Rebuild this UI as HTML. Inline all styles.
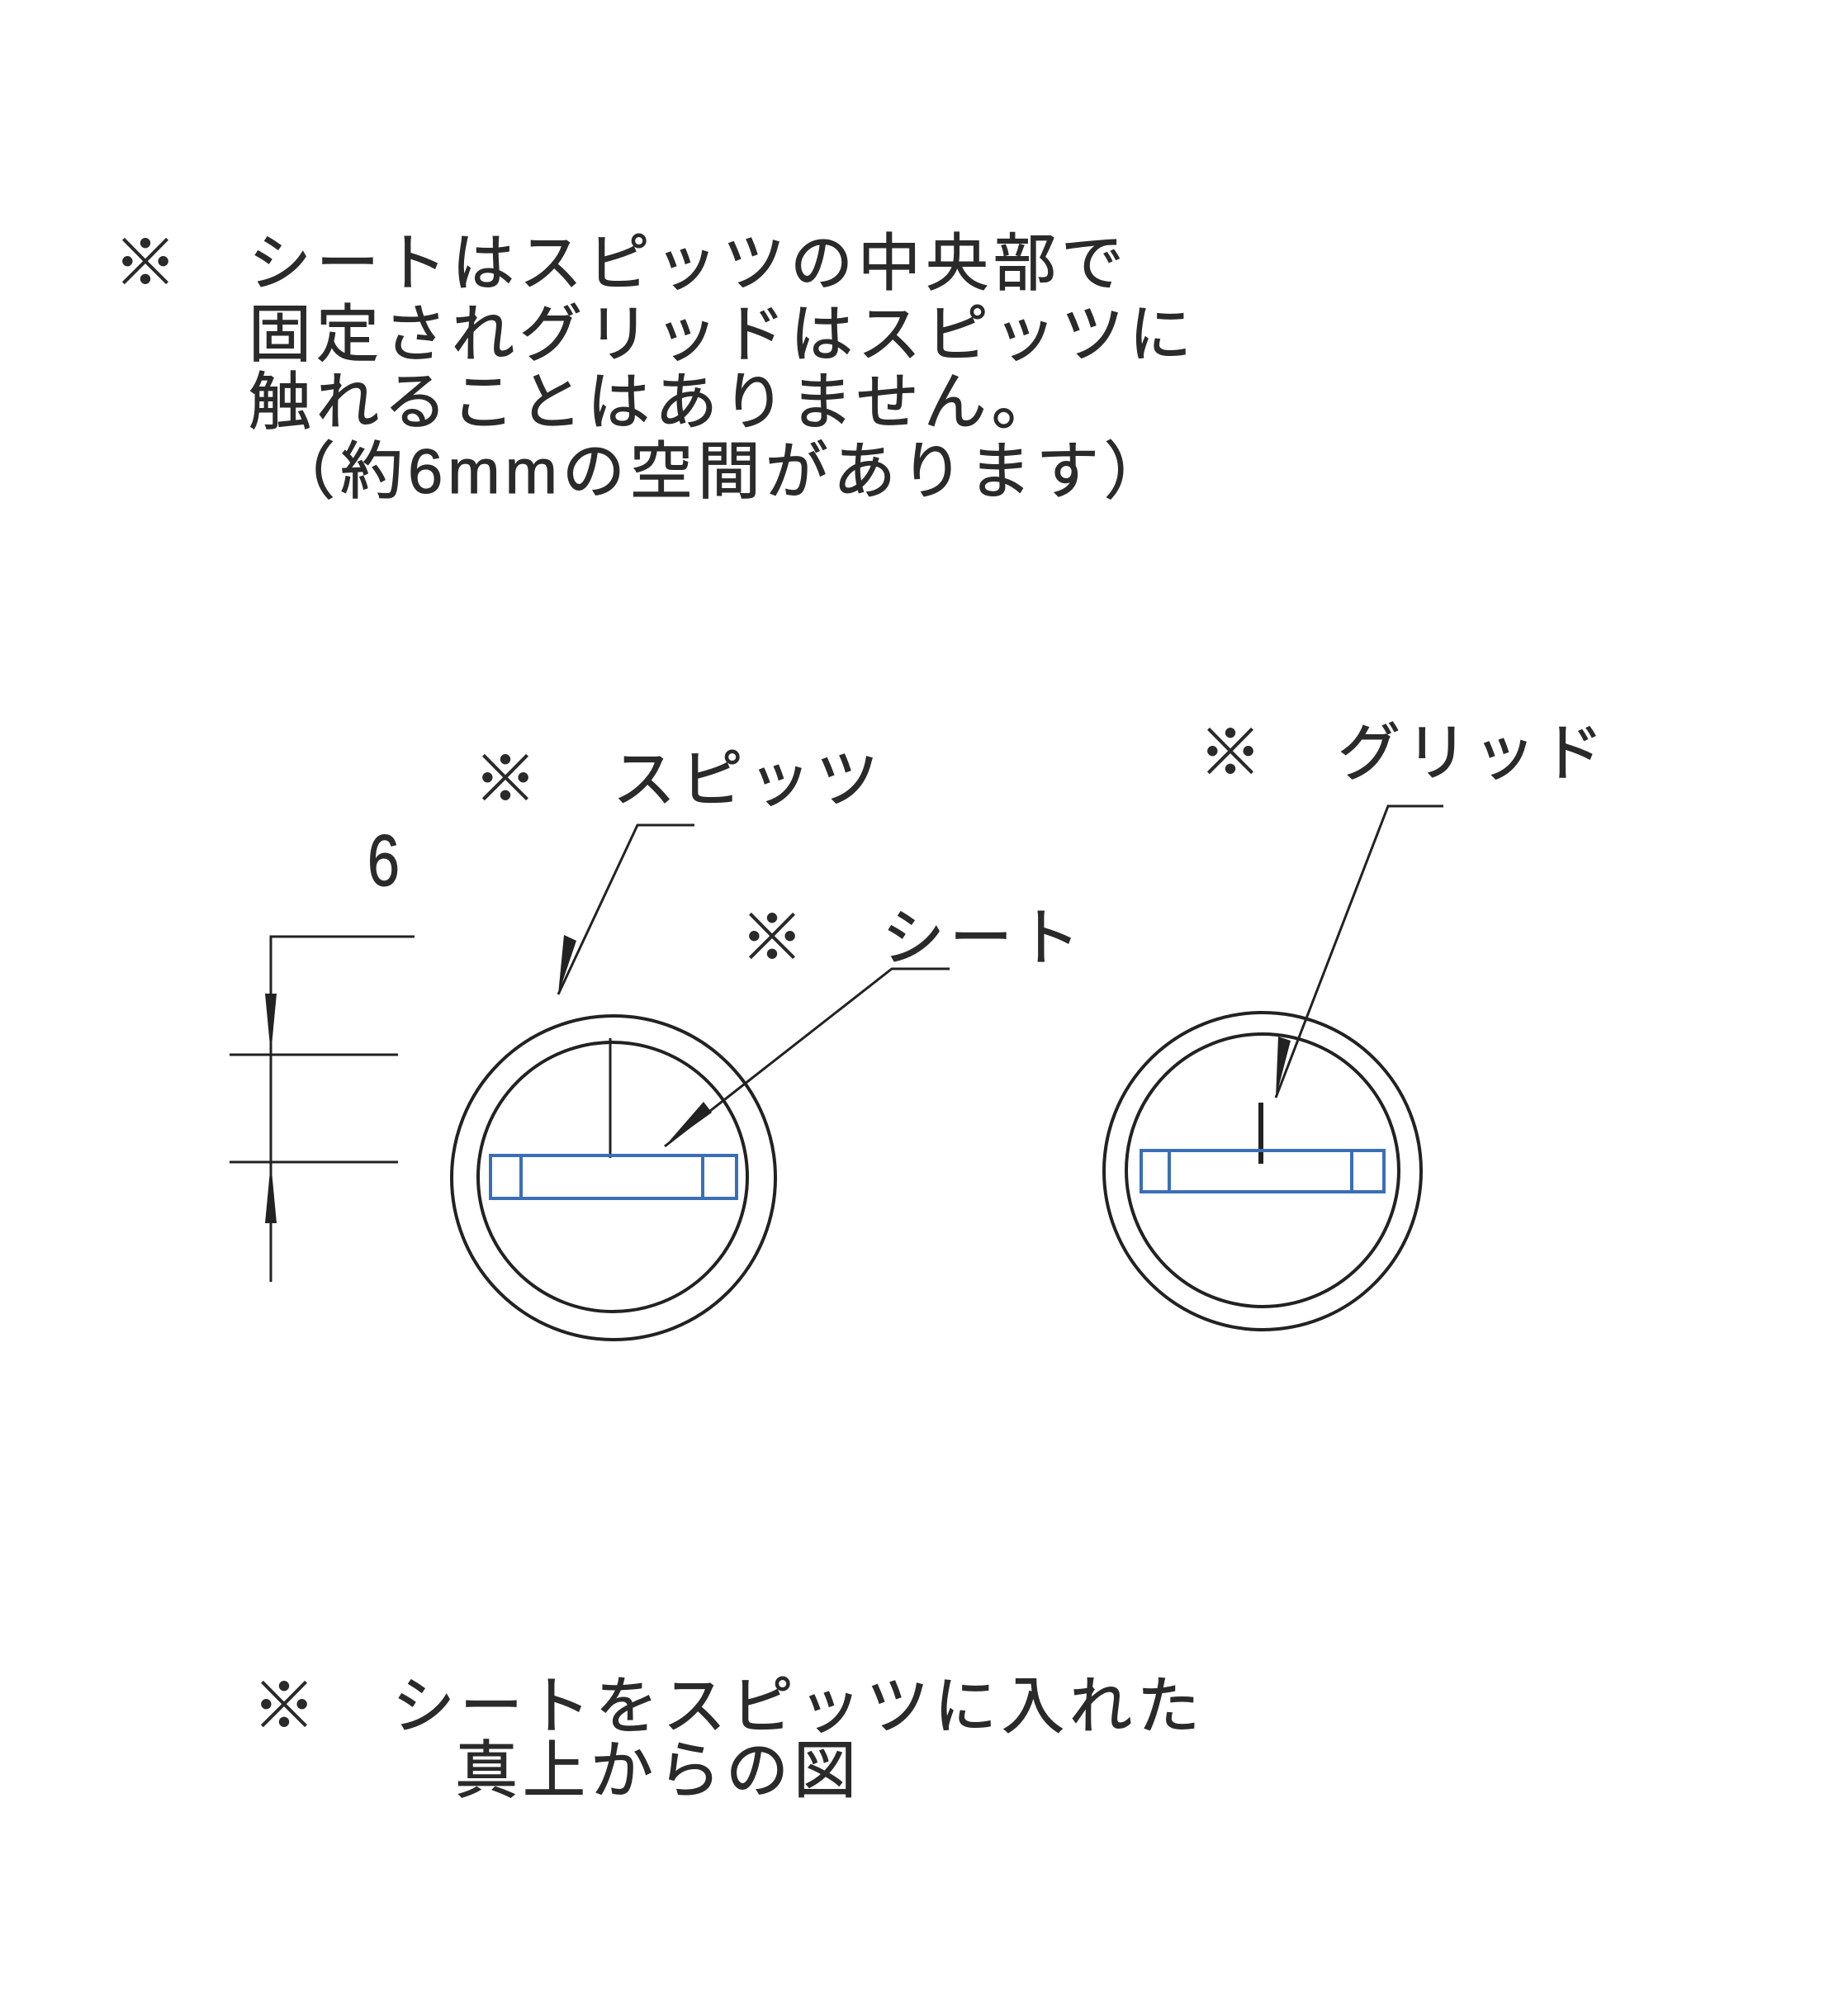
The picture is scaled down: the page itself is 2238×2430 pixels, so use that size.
<!DOCTYPE html>
<html><head><meta charset="utf-8"><style>
html,body{margin:0;padding:0;background:#fff;}
body{width:2238px;height:2430px;position:relative;overflow:hidden;}
.t{position:absolute;font-family:"Liberation Sans","Noto Sans CJK JP",sans-serif;font-size:76px;line-height:76px;color:#2a2a2a;letter-spacing:6px;white-space:nowrap;-webkit-text-stroke:1px #2a2a2a;}
svg{position:absolute;left:0;top:0;}
</style></head><body>
<svg width="2238" height="2430" viewBox="0 0 2238 2430">
<g fill="none" stroke="#222" stroke-width="3">
<circle cx="743" cy="1426" r="196" stroke-width="4"/>
<circle cx="742" cy="1425" r="163" stroke-width="4"/>
<circle cx="1529" cy="1418" r="192" stroke-width="4"/>
<circle cx="1529" cy="1417" r="165" stroke-width="4"/>
<line x1="739" y1="1257" x2="739" y2="1402"/>
<line x1="1527" y1="1335" x2="1527" y2="1409" stroke-width="6"/>
<polyline points="502,1134 328,1134 328,1552"/>
<line x1="278" y1="1277" x2="482" y2="1277"/>
<line x1="278" y1="1407" x2="482" y2="1407"/>
<polyline points="841,999 772,999 676,1204"/>
<polyline points="1150,1173 1080,1173 805,1388"/>
<polyline points="1748,976 1681,976 1545,1329"/>
</g>
<g fill="#222">
<polygon points="328,1277 321,1203 335,1203"/>
<polygon points="328,1407 321,1481 335,1481"/>
<polygon points="676,1204 683,1132 698,1139"/>
<polygon points="805,1388 852,1334 862,1347"/>
<polygon points="1545,1329 1548,1255 1563,1260"/>
</g>
<g fill="none" stroke="#3a6fb8" stroke-width="4">
<rect x="594" y="1399" width="298" height="52"/>
<line x1="631" y1="1399" x2="631" y2="1451"/>
<line x1="851" y1="1399" x2="851" y2="1451"/>
<rect x="1382" y="1393" width="294" height="50"/>
<line x1="1416" y1="1393" x2="1416" y2="1443"/>
<line x1="1637" y1="1393" x2="1637" y2="1443"/>
</g>
</svg>
<div class="t" style="left:138px;top:282px;">※</div>
<div class="t" style="left:301px;top:282px;">シートはスピッツの中央部で</div>
<div class="t" style="left:301px;top:368px;">固定されグリッドはスピッツに</div>
<div class="t" style="left:301px;top:450px;">触れることはありません。</div>
<div class="t" style="left:330px;top:534px;">（約6mmの空間があります）</div>
<div class="t" style="left:440px;top:998px;font-size:88px;line-height:88px;letter-spacing:0;transform:scaleX(0.8);">6</div>
<div class="t" style="left:574px;top:907px;">※</div>
<div class="t" style="left:742px;top:907px;">スピッツ</div>
<div class="t" style="left:897px;top:1099px;">※</div>
<div class="t" style="left:1068px;top:1099px;">シート</div>
<div class="t" style="left:1452px;top:875px;">※</div>
<div class="t" style="left:1620px;top:875px;">グリッド</div>
<div class="t" style="left:306px;top:2029px;">※</div>
<div class="t" style="left:475px;top:2029px;">シートをスピッツに入れた</div>
<div class="t" style="left:551px;top:2107px;">真上からの図</div>
</body></html>
